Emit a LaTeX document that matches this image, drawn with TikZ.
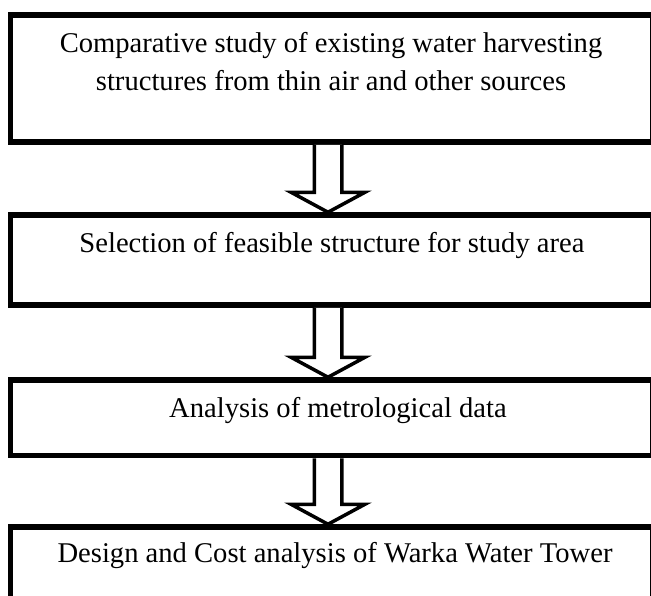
\documentclass[tikz,border=0pt]{standalone}
\usepackage{fontspec}
\setmainfont{Liberation Serif}
\usetikzlibrary{calc}

\begin{document}
\begin{tikzpicture}[
    x=1pt, y=-1pt,
    stepbox/.style={rectangle, draw, line width=5.5pt, fill=white, minimum width=642.5pt},
    boxtext/.style={align=center, anchor=base, font=\fontsize{28.6}{38}\selectfont},
    hollow/.style={draw, line width=3.5pt, fill=white, line join=miter}
]
\useasboundingbox (0,0) rectangle (651,595);
\clip (0,0) rectangle (651,595);

\node [stepbox, minimum height=127pt] (b1) at (331.75,78.5) {};
\node [stepbox, minimum height=90pt] (b2) at (331.75,260) {};
\node [stepbox, minimum height=75.5pt] (b3) at (331.75,417.75) {};
\node [stepbox, minimum height=83pt] (b4) at (331.75,568.5) {};

\node [boxtext] (t1) at (331,90) {Comparative study of existing water harvesting\\structures from thin air and other sources};
\node [boxtext] (t2) at (332,252) {Selection of feasible structure for study area};
\node [boxtext] (t3) at (338,417) {Analysis of metrological data};
\node [boxtext] (t4) at (335,562) {Design and Cost analysis of Warka Water Tower};

% hollow block arrows between the boxes
\foreach \a/\b in {b1/b2, b2/b3, b3/b4} {
    \draw [hollow] ($(\a.south)+(-17.5,0)$) -- ($(\b.north)+(-17.5,-20)$)
        -- ($(\b.north)+(-40.75,-20)$) -- ($(\b.north)+(-3.75,0)$)
        -- ($(\b.north)+(33.25,-20)$) -- ($(\b.north)+(10,-20)$)
        -- ($(\a.south)+(10,0)$);
}

\end{tikzpicture}
\end{document}
